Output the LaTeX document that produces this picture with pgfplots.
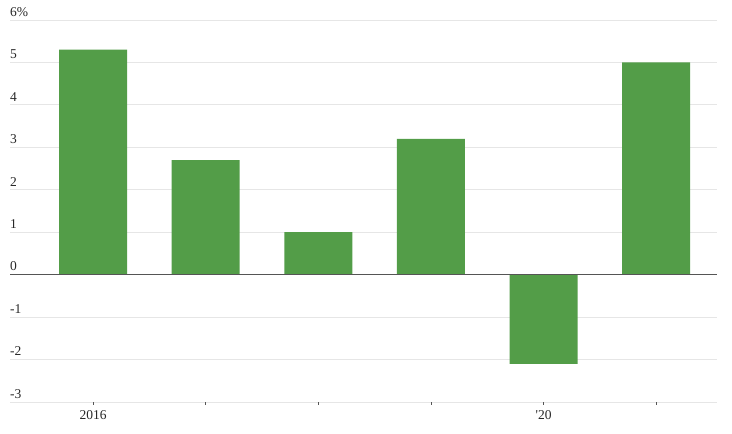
\documentclass[border=0pt]{standalone}
\usepackage{pgfplots}
\pgfplotsset{compat=1.18}
\usepackage{fontspec}
\setmainfont{Liberation Serif}
\definecolor{bargreen}{RGB}{83,157,72}
\definecolor{gridgray}{RGB}{230,230,230}
\definecolor{zerogray}{RGB}{85,85,85}
\definecolor{txt}{RGB}{40,40,40}
\begin{document}
\begin{tikzpicture}
\begin{axis}[
  at={(0,0)}, anchor=south west,
  scale only axis,
  width=707pt, height=382pt,
  xmin=-0.737, xmax=5.54,
  ymin=-3, ymax=6,
  axis line style={draw=none},
  ytick={-3,-2,-1,0,1,2,3,4,5,6},
  yticklabels={-3,-2,-1,0,1,2,3,4,5,6\%},
  xtick={0,1,2,3,4,5},
  xticklabels={2016,,,,\textquotesingle20,},
  tick pos=left,
  tick align=outside,
  major tick length=3pt,
  ytick style={draw=none},
  xtick style={draw=zerogray, line width=0.8pt},
  ymajorgrids,
  grid style={gridgray, line width=0.8pt},
  ticklabel style={font=\fontsize{13.5}{15}\selectfont, text=txt},
  yticklabel style={anchor=south west, inner sep=0pt, xshift=3pt, yshift=3.5pt},
  xticklabel style={yshift=-2pt},
  yticklabel shift=0pt,
]
\addplot[ybar, bar width=68pt, fill=bargreen, draw=none, bar shift=0pt]
  coordinates {(0,5.3) (1,2.7) (2,1.0) (3,3.2) (4,-2.1) (5,5.0)};
\draw[zerogray, line width=1.2pt] (axis cs:-0.737,0) -- (axis cs:5.54,0);
\end{axis}
\pgfresetboundingbox
\path[use as bounding box] (-10pt,-32pt) rectangle (722pt,402pt);
\end{tikzpicture}
\end{document}
